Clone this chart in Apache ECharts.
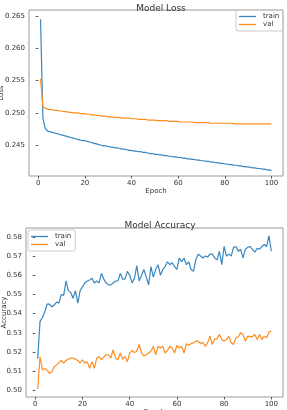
<!DOCTYPE html>
<html><head><meta charset="utf-8">
<script src="https://cdn.jsdelivr.net/npm/echarts@6/dist/echarts.min.js"></script>
<style>html,body{margin:0;padding:0;background:#fff}#c{width:287px;height:410px}</style>
</head><body><div id="c"></div>
<script>
const epochs = [];
for (let i = 1; i <= 100; i++) epochs.push(i);

const lossTrain = [0.2645,0.2492,0.2476,0.2472,0.2471,0.2470,0.2469,0.2468,0.2467,0.2466,
0.2465,0.2464,0.2463,0.2462,0.2461,0.2460,0.2459,0.2458,0.2457,0.2457,
0.2456,0.2455,0.2454,0.2453,0.2452,0.2451,0.2450,0.2449,0.2449,0.2448,
0.2447,0.2447,0.2446,0.2446,0.2445,0.2444,0.2444,0.2443,0.2442,0.2442,
0.2441,0.2441,0.2440,0.2440,0.2439,0.2439,0.2438,0.2437,0.2437,0.2436,
0.2436,0.2435,0.2435,0.2434,0.2434,0.2433,0.2433,0.2432,0.2432,0.2431,
0.2431,0.2430,0.2430,0.2429,0.2429,0.2428,0.2428,0.2427,0.2427,0.2426,
0.2426,0.2425,0.2425,0.2424,0.2424,0.2423,0.2423,0.2422,0.2422,0.2421,
0.2421,0.2420,0.2420,0.2419,0.2419,0.2418,0.2418,0.2417,0.2417,0.2416,
0.2416,0.2415,0.2415,0.2414,0.2414,0.2413,0.2413,0.2412,0.2412,0.2411];

const lossVal = [0.2553,0.2510,0.2507,0.2506,0.2505,0.2505,0.2504,0.2504,0.2503,0.2503,
0.2502,0.2502,0.2501,0.2501,0.2500,0.2500,0.2500,0.2499,0.2499,0.2499,
0.2498,0.2498,0.2497,0.2497,0.2496,0.2496,0.2495,0.2495,0.2495,0.2494,
0.2494,0.2494,0.2493,0.2493,0.2493,0.2492,0.2492,0.2492,0.2492,0.2491,
0.2491,0.2491,0.2490,0.2490,0.2490,0.2490,0.2489,0.2489,0.2489,0.2489,
0.2488,0.2488,0.2488,0.2488,0.2488,0.2487,0.2487,0.2487,0.2487,0.2487,
0.2486,0.2486,0.2486,0.2486,0.2486,0.2486,0.2485,0.2485,0.2485,0.2485,
0.2485,0.2485,0.2485,0.2484,0.2484,0.2484,0.2484,0.2484,0.2484,0.2484,
0.2484,0.2484,0.2484,0.2483,0.2483,0.2483,0.2483,0.2483,0.2483,0.2483,
0.2483,0.2483,0.2483,0.2483,0.2483,0.2483,0.2483,0.2483,0.2483,0.2483];

const accTrain = [0.5165,0.5360,0.5380,0.5410,0.5450,0.5450,0.5435,0.5445,0.5460,0.5455,
0.5500,0.5495,0.5570,0.5520,0.5510,0.5480,0.5520,0.5455,0.5520,0.5540,
0.5560,0.5570,0.5575,0.5585,0.5560,0.5570,0.5560,0.5610,0.5580,0.5560,
0.5550,0.5550,0.5560,0.5570,0.5570,0.5610,0.5580,0.5580,0.5620,0.5600,
0.5560,0.5585,0.5650,0.5570,0.5600,0.5630,0.5590,0.5550,0.5645,0.5590,
0.5630,0.5655,0.5600,0.5630,0.5645,0.5670,0.5655,0.5665,0.5645,0.5630,
0.5690,0.5670,0.5690,0.5655,0.5670,0.5630,0.5620,0.5680,0.5710,0.5700,
0.5690,0.5700,0.5695,0.5710,0.5710,0.5690,0.5680,0.5725,0.5655,0.5750,
0.5700,0.5710,0.5700,0.5745,0.5750,0.5725,0.5735,0.5690,0.5735,0.5745,
0.5750,0.5735,0.5720,0.5740,0.5735,0.5750,0.5760,0.5750,0.5805,0.5725];

const accVal = [0.5008,0.5177,0.5106,0.5115,0.5106,0.5089,0.5097,0.5124,0.5133,0.5145,
0.5156,0.5142,0.5156,0.5163,0.5168,0.5168,0.5163,0.5156,0.5142,0.5160,
0.5142,0.5150,0.5115,0.5150,0.5115,0.5168,0.5177,0.5160,0.5174,0.5186,
0.5186,0.5168,0.5212,0.5168,0.5160,0.5195,0.5163,0.5177,0.5150,0.5195,
0.5209,0.5198,0.5204,0.5239,0.5195,0.5180,0.5186,0.5195,0.5204,0.5230,
0.5186,0.5230,0.5221,0.5230,0.5195,0.5209,0.5230,0.5221,0.5195,0.5234,
0.5221,0.5230,0.5195,0.5244,0.5234,0.5244,0.5248,0.5257,0.5257,0.5244,
0.5251,0.5230,0.5248,0.5283,0.5239,0.5269,0.5269,0.5292,0.5265,0.5257,
0.5265,0.5283,0.5248,0.5239,0.5274,0.5280,0.5301,0.5292,0.5257,0.5283,
0.5280,0.5280,0.5292,0.5265,0.5292,0.5265,0.5283,0.5274,0.5304,0.5310];

const xTicks = [0, 20, 40, 60, 80, 100];
const lossTicks = [0.245, 0.250, 0.255, 0.260, 0.265];
const accTicks = [0.50, 0.51, 0.52, 0.53, 0.54, 0.55, 0.56, 0.57, 0.58];

const BLUE = '#3a87c0', ORANGE = '#ff8c1f';
const FONT = 'DejaVu Sans';
const pair = a => a.map((v, i) => [epochs[i], v]);

const xAxisBase = (gi) => ({
  type: 'value', gridIndex: gi, min: -3.95, max: 104.95,
  name: 'Epoch', nameLocation: 'middle', nameGap: 12, nameMoveOverlap: false,
  nameTextStyle: { fontFamily: FONT, fontSize: 7, color: '#333' },
  axisLine: { show: false }, splitLine: { show: false },
  axisTick: { show: true, length: 2.5, lineStyle: { color: '#555' }, customValues: xTicks },
  axisLabel: { fontFamily: FONT, fontSize: 7, color: '#333', margin: 4, customValues: xTicks }
});

const chart = echarts.init(document.getElementById('c'), null, { renderer: 'canvas' });
chart.setOption({
  animation: false,
  textStyle: { fontFamily: FONT },
  title: [
    { text: 'Model Loss', left: 156, top: -1, textAlign: 'center',
      textStyle: { fontFamily: FONT, fontSize: 9, fontWeight: 'normal', color: '#333' } },
    { text: 'Model Accuracy', left: 155, top: 216, textAlign: 'center',
      textStyle: { fontFamily: FONT, fontSize: 9, fontWeight: 'normal', color: '#333' } }
  ],
  grid: [
    { left: 29, right: 4, top: 10, height: 166, containLabel: false, outerBoundsMode: 'none',
      show: true, borderColor: '#9a9a9a', borderWidth: 1, backgroundColor: '#fff' },
    { left: 26, right: 4, top: 228, height: 169, containLabel: false, outerBoundsMode: 'none',
      show: true, borderColor: '#9a9a9a', borderWidth: 1, backgroundColor: '#fff' }
  ],
  legend: [
    { orient: 'vertical', left: 236, top: 10, padding: [3, 4, 3, 3], itemGap: 1,
      borderColor: '#cccccc', borderWidth: 1, borderRadius: 2,
      icon: 'rect', itemWidth: 17, itemHeight: 1.3,
      textStyle: { fontFamily: FONT, fontSize: 7, color: '#333', padding: [0, 0, 0, 2] },
      data: ['train', 'val'] },
    { orient: 'vertical', left: 28, top: 230, padding: [3, 4, 3, 3], itemGap: 1,
      borderColor: '#cccccc', borderWidth: 1, borderRadius: 2,
      icon: 'rect', itemWidth: 17, itemHeight: 1.3,
      textStyle: { fontFamily: FONT, fontSize: 7, color: '#333', padding: [0, 0, 0, 2] },
      data: ['train', 'val'] }
  ],
  xAxis: [xAxisBase(0), xAxisBase(1)],
  yAxis: [
    { type: 'value', gridIndex: 0, min: 0.24024, max: 0.26593,
      name: 'Loss', nameLocation: 'middle', nameGap: 24, nameMoveOverlap: false,
      nameTextStyle: { fontFamily: FONT, fontSize: 7, color: '#333' },
      axisLine: { show: false }, splitLine: { show: false },
      axisTick: { show: true, length: 2.5, lineStyle: { color: '#555' }, customValues: lossTicks },
      axisLabel: { fontFamily: FONT, fontSize: 7, color: '#333', margin: 4, customValues: lossTicks,
        formatter: v => v.toFixed(3) } },
    { type: 'value', gridIndex: 1, min: 0.4966, max: 0.5846,
      name: 'Accuracy', nameLocation: 'middle', nameGap: 18, nameMoveOverlap: false,
      nameTextStyle: { fontFamily: FONT, fontSize: 7, color: '#333' },
      axisLine: { show: false }, splitLine: { show: false },
      axisTick: { show: true, length: 2.5, lineStyle: { color: '#555' }, customValues: accTicks },
      axisLabel: { fontFamily: FONT, fontSize: 7, color: '#333', margin: 4, customValues: accTicks,
        formatter: v => v.toFixed(2) } }
  ],
  series: [
    { name: 'train', type: 'line', xAxisIndex: 0, yAxisIndex: 0, data: pair(lossTrain),
      showSymbol: false, color: BLUE, lineStyle: { width: 1.2, color: BLUE } },
    { name: 'val', type: 'line', xAxisIndex: 0, yAxisIndex: 0, data: pair(lossVal),
      showSymbol: false, color: ORANGE, lineStyle: { width: 1.2, color: ORANGE } },
    { name: 'train', type: 'line', xAxisIndex: 1, yAxisIndex: 1, data: pair(accTrain),
      showSymbol: false, color: BLUE, lineStyle: { width: 1.2, color: BLUE } },
    { name: 'val', type: 'line', xAxisIndex: 1, yAxisIndex: 1, data: pair(accVal),
      showSymbol: false, color: ORANGE, lineStyle: { width: 1.2, color: ORANGE } }
  ]
});
</script>
</body></html>
